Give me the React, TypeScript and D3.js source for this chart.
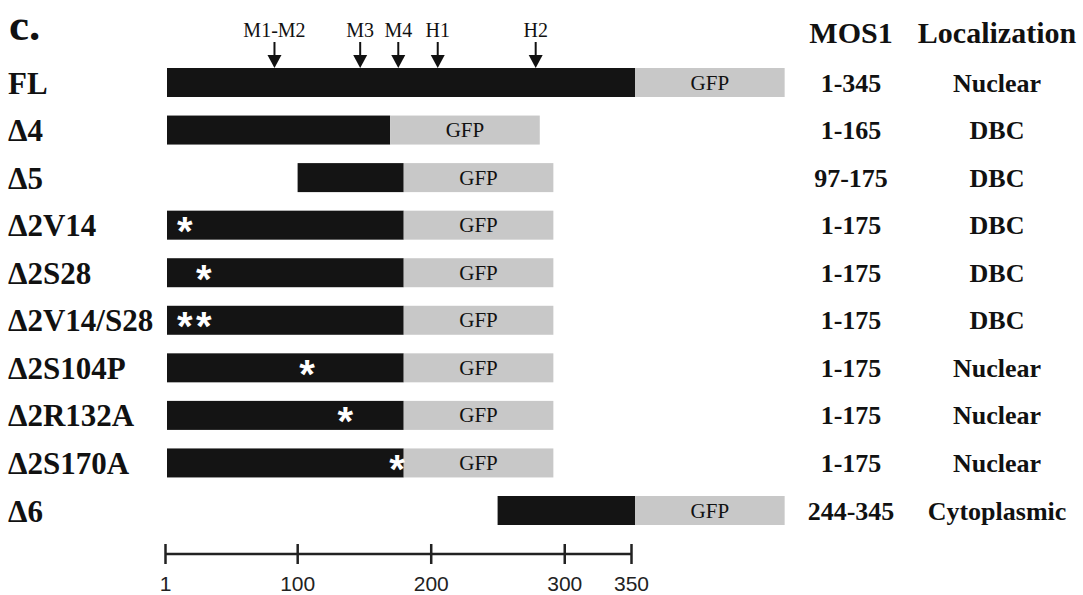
import React, {useRef, useEffect} from 'react'
import * as d3 from 'd3';

// constructs, top to bottom
const constructs = ["FL", "Δ4", "Δ5", "Δ2V14", "Δ2S28", "Δ2V14/S28", "Δ2S104P", "Δ2R132A", "Δ2S170A", "Δ6"];
const starts = [1, 1, 97, 1, 1, 1, 1, 1, 1, 244];
const ends = [345, 165, 175, 175, 175, 175, 175, 175, 175, 345];
const mosRanges = ["1-345", "1-165", "97-175", "1-175", "1-175", "1-175", "1-175", "1-175", "1-175", "244-345"];
const localization = ["Nuclear", "DBC", "DBC", "DBC", "DBC", "DBC", "Nuclear", "Nuclear", "Nuclear", "Cytoplasmic"];
const mutations = [[], [], [], [14], [28], [14, 28], [104], [132], [170], []];

// GFP tag length drawn in residue units
const gfpLength = 110;

// motifs marked with arrows above FL
const motifNames = ["M1-M2", "M3", "M4", "H1", "H2"];
const motifPos = [80, 143, 171, 200, 272];

const axisTicks = [1, 100, 200, 300, 350];

const colors = {"mos": "#141414", "gfp": "#c8c8c8", "star": "#ffffff", "text": "#111111"};

export default function App() {
  const layout = {"width": 1083, "height": 595, "barLeft": 167, "barRight": 635, "rowTop": 82.5, "rowBottom": 510.5, "barHeight": 29};
  const ref = useRef(null);

  useEffect(() => {
    const svg = d3.select(ref.current);
    svg.selectAll("*").remove();

    const xScale = d3.scaleLinear()
      .domain([1, 345])
      .range([layout.barLeft, layout.barRight]);

    // the ruler at the bottom of the figure is drawn a bit shorter than the bars
    const rulerScale = d3.scaleLinear()
      .domain([1, 350])
      .range([165, 631]);

    const yScale = d3.scalePoint()
      .domain(constructs)
      .range([layout.rowTop, layout.rowBottom]);

    const serif = "'Liberation Serif', 'Times New Roman', serif";
    const sans = "'Liberation Sans', Arial, sans-serif";

    const rows = constructs.map((c, i) => ({name: c, start: starts[i], end: ends[i], mos: mosRanges[i], loc: localization[i], muts: mutations[i]}));

    // panel letter
    svg.append("text")
      .attr("x", 9).attr("y", 40)
      .attr("font-family", serif).attr("font-weight", "bold").attr("font-size", 45)
      .attr("fill", colors.text)
      .text("c.");

    // column headers
    svg.append("text")
      .attr("x", 851).attr("y", 43)
      .attr("text-anchor", "middle")
      .attr("font-family", serif).attr("font-weight", "bold").attr("font-size", 30)
      .attr("fill", colors.text)
      .text("MOS1");

    svg.append("text")
      .attr("x", 997).attr("y", 43)
      .attr("text-anchor", "middle")
      .attr("font-family", serif).attr("font-weight", "bold").attr("font-size", 30)
      .attr("fill", colors.text)
      .text("Localization");

    const g = svg.append("g");

    // row labels
    g.selectAll(".rowLabel")
      .data(rows)
      .join("text")
      .attr("class", "rowLabel")
      .attr("x", 8)
      .attr("y", d => yScale(d.name) + 11)
      .attr("font-family", serif).attr("font-weight", "bold").attr("font-size", 31)
      .attr("fill", colors.text)
      .text(d => d.name);

    // MOS1 part
    g.selectAll(".mosBar")
      .data(rows)
      .join("rect")
      .attr("class", "mosBar")
      .attr("x", d => xScale(d.start))
      .attr("y", d => yScale(d.name) - layout.barHeight / 2)
      .attr("width", d => xScale(d.end) - xScale(d.start))
      .attr("height", layout.barHeight)
      .attr("fill", colors.mos);

    // GFP tag
    g.selectAll(".gfpBar")
      .data(rows)
      .join("rect")
      .attr("class", "gfpBar")
      .attr("x", d => xScale(d.end))
      .attr("y", d => yScale(d.name) - layout.barHeight / 2)
      .attr("width", d => xScale(d.end + gfpLength) - xScale(d.end))
      .attr("height", layout.barHeight)
      .attr("fill", colors.gfp);

    g.selectAll(".gfpText")
      .data(rows)
      .join("text")
      .attr("class", "gfpText")
      .attr("x", d => (xScale(d.end) + xScale(d.end + gfpLength)) / 2)
      .attr("y", d => yScale(d.name) + 7)
      .attr("text-anchor", "middle")
      .attr("font-family", serif).attr("font-size", 21)
      .attr("fill", colors.text)
      .text("GFP");

    // point mutations
    const stars = rows.flatMap(d => d.muts.map(m => ({name: d.name, pos: m})));
    g.selectAll(".star")
      .data(stars)
      .join("text")
      .attr("class", "star")
      .attr("x", d => xScale(d.pos))
      .attr("y", d => yScale(d.name) + 20)
      .attr("text-anchor", "middle")
      .attr("font-family", sans).attr("font-weight", "bold").attr("font-size", 40)
      .attr("fill", colors.star)
      .text("*");

    // right-hand columns
    g.selectAll(".mosText")
      .data(rows)
      .join("text")
      .attr("class", "mosText")
      .attr("x", 851)
      .attr("y", d => yScale(d.name) + 9)
      .attr("text-anchor", "middle")
      .attr("font-family", serif).attr("font-weight", "bold").attr("font-size", 26)
      .attr("fill", colors.text)
      .text(d => d.mos);

    g.selectAll(".locText")
      .data(rows)
      .join("text")
      .attr("class", "locText")
      .attr("x", 997)
      .attr("y", d => yScale(d.name) + 9)
      .attr("text-anchor", "middle")
      .attr("font-family", serif).attr("font-weight", "bold").attr("font-size", 26)
      .attr("fill", colors.text)
      .text(d => d.loc);

    // motif arrows above FL
    const flTop = yScale("FL") - layout.barHeight / 2;
    const motifs = motifNames.map((m, i) => ({name: m, pos: motifPos[i]}));

    const arrows = g.selectAll(".motif")
      .data(motifs)
      .join("g")
      .attr("class", "motif")
      .attr("transform", d => `translate(${xScale(d.pos)}, 0)`);

    arrows.append("text")
      .attr("y", 37)
      .attr("text-anchor", "middle")
      .attr("font-family", serif).attr("font-size", 20)
      .attr("fill", colors.text)
      .text(d => d.name);

    arrows.append("line")
      .attr("y1", 42).attr("y2", flTop - 10)
      .attr("stroke", colors.text).attr("stroke-width", 2);

    arrows.append("path")
      .attr("d", `M-7,${flTop - 13}L7,${flTop - 13}L0,${flTop}Z`)
      .attr("fill", colors.text);

    // ruler
    const ruler = svg.append("g")
      .attr("transform", "translate(0, 554)")
      .call(d3.axisBottom(rulerScale).tickValues(axisTicks).tickFormat(d3.format("d")).tickSize(10).tickSizeOuter(0));

    ruler.select(".domain")
      .attr("d", `M${rulerScale(1)},0H${rulerScale(350)}`)
      .attr("stroke", "#222").attr("stroke-width", 2.5);

    ruler.selectAll(".tick line")
      .attr("y1", -10).attr("y2", 10)
      .attr("stroke", "#222").attr("stroke-width", 2.5);

    ruler.selectAll(".tick text")
      .attr("y", 22)
      .attr("dy", "0.71em")
      .attr("font-family", sans).attr("font-size", 21)
      .attr("fill", "#222");
  }, []);

  return (
    <div>
      <svg width={layout.width} height={layout.height} ref={ref}
        style={{position: "absolute", left: 0, top: 0, background: "#fff"}} />
    </div>
  )
}
